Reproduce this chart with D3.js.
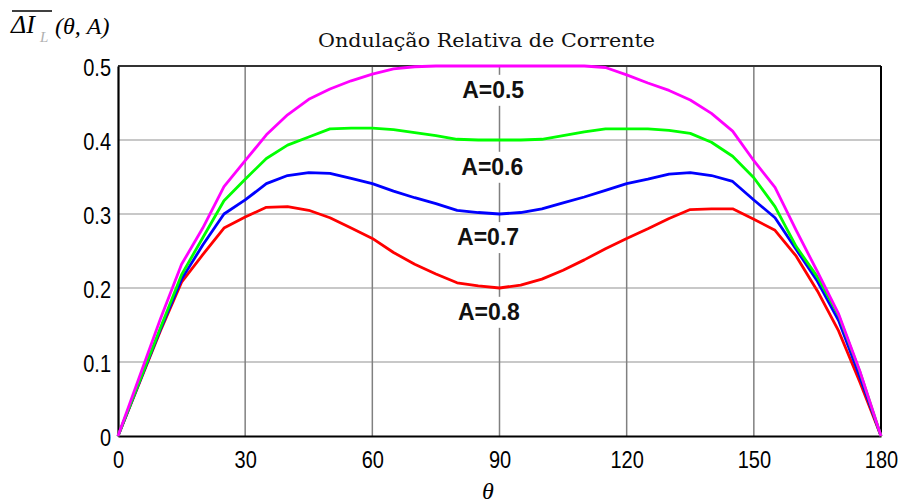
<!DOCTYPE html>
<html>
<head>
<meta charset="utf-8">
<script src="https://cdn.jsdelivr.net/npm/d3@7"></script>
<style>
html,body{margin:0;padding:0;background:#fff;}
svg{display:block;}
</style>
</head>
<body>
<svg id="chart" width="904" height="504"></svg>
<script>
// ---- data ----
const theta = [0,5,10,15,20,25,30,35,40,45,50,55,60,65,70,75,80,85,90,
               95,100,105,110,115,120,125,130,135,140,145,150,155,160,165,170,175,180];

const seriesA05 = [0,0.079,0.158,0.232,0.281,0.337,0.372,0.407,0.434,0.455,0.469,0.480,0.489,0.496,0.499,0.500,0.500,0.500,0.500,
                   0.500,0.500,0.500,0.500,0.498,0.488,0.477,0.467,0.454,0.436,0.412,0.372,0.336,0.278,0.222,0.165,0.088,0];
const seriesA06 = [0,0.073,0.146,0.218,0.268,0.318,0.347,0.375,0.393,0.404,0.415,0.416,0.416,0.414,0.410,0.406,0.401,0.400,0.400,
                   0.400,0.401,0.406,0.411,0.415,0.415,0.415,0.413,0.409,0.397,0.378,0.349,0.310,0.256,0.215,0.163,0.087,0];
const seriesA07 = [0,0.072,0.144,0.212,0.258,0.300,0.319,0.341,0.352,0.356,0.355,0.348,0.341,0.331,0.322,0.314,0.305,0.302,0.300,
                   0.302,0.307,0.315,0.323,0.332,0.341,0.347,0.354,0.356,0.352,0.344,0.319,0.295,0.252,0.209,0.156,0.080,0];
const seriesA08 = [0,0.071,0.142,0.208,0.245,0.281,0.296,0.309,0.310,0.305,0.295,0.281,0.267,0.248,0.232,0.219,0.207,0.203,0.200,
                   0.204,0.212,0.224,0.238,0.253,0.267,0.280,0.294,0.306,0.307,0.307,0.293,0.278,0.243,0.196,0.142,0.073,0];

const seriesNames = ["A=0.8","A=0.7","A=0.6","A=0.5"];
const xTicks = [0,30,60,90,120,150,180];
const yTicks = [0,0.1,0.2,0.3,0.4,0.5];
const yTickLabels = ["0","0.1","0.2","0.3","0.4","0.5"];
const titleText = "Ondulação Relativa de Corrente";

// ---- layout / style ----
const plot = {left:118, right:881, top:66, bottom:436};
const colors = {"A=0.8":"#ff0000","A=0.7":"#0000ff","A=0.6":"#00ff00","A=0.5":"#ff00ff"};
const seriesData = {"A=0.8":seriesA08,"A=0.7":seriesA07,"A=0.6":seriesA06,"A=0.5":seriesA05};
// label anchor positions in data units (theta, value of baseline)
const labelPos = {"A=0.5":[88.5,0.457],"A=0.6":[88.3,0.353],"A=0.7":[87.3,0.258],"A=0.8":[87.5,0.157]};

const svg = d3.select("#chart");
const x = d3.scaleLinear().domain([0,180]).range([plot.left, plot.right]);
const y = d3.scaleLinear().domain([0,0.5]).range([plot.bottom, plot.top]);

// grid
const grid = svg.append("g");
grid.selectAll("line.h").data(yTicks.filter(d=>d>0 && d<0.5)).enter().append("line")
  .attr("x1",plot.left).attr("x2",plot.right)
  .attr("y1",d=>y(d)).attr("y2",d=>y(d))
  .attr("stroke","#c8c8c8").attr("stroke-width",2);
grid.selectAll("line.v").data(xTicks.filter(d=>d>0 && d<180)).enter().append("line")
  .attr("x1",d=>x(d)).attr("x2",d=>x(d))
  .attr("y1",plot.top).attr("y2",plot.bottom)
  .attr("stroke","#808080").attr("stroke-width",1.5);

// frame
svg.append("line").attr("x1",plot.left).attr("x2",plot.right).attr("y1",plot.top).attr("y2",plot.top)
  .attr("stroke","#333").attr("stroke-width",2);
svg.append("line").attr("x1",plot.right).attr("x2",plot.right).attr("y1",plot.top).attr("y2",plot.bottom)
  .attr("stroke","#000").attr("stroke-width",2);

// axes
const SY = 1.22; // vertical stretch of tick font
const xAxis = d3.axisBottom(x).tickValues(xTicks).tickSize(0).tickFormat(d3.format("d"));
const gx = svg.append("g").attr("transform",`translate(0,${plot.bottom})`).call(xAxis);
gx.select(".domain").attr("stroke","#000").attr("stroke-width",2.2);
gx.selectAll("text")
  .attr("font-family","'Liberation Sans', Arial, sans-serif").attr("font-size",20)
  .attr("fill","#000").attr("dy",null)
  .attr("y",32/SY).attr("transform",`scale(1,${SY})`);

const yAxis = d3.axisLeft(y).tickValues(yTicks).tickSize(0).tickFormat((d,i)=>yTickLabels[i]);
const gy = svg.append("g").attr("transform",`translate(${plot.left},0)`).call(yAxis);
gy.select(".domain").attr("stroke","#000").attr("stroke-width",2.2);
gy.selectAll(".tick").each(function(d){
  const ty = y(d);
  d3.select(this).attr("transform",null);
  d3.select(this).select("text")
    .attr("font-family","'Liberation Sans', Arial, sans-serif").attr("font-size",20)
    .attr("fill","#000").attr("dy",null).attr("x",-7)
    .attr("y",(ty+10.5)/SY).attr("transform",`scale(1,${SY})`);
});

// curves
const line = d3.line().x((d,i)=>x(theta[i])).y(d=>y(d));
seriesNames.forEach(name=>{
  svg.append("path").datum(seriesData[name])
    .attr("d",line).attr("fill","none")
    .attr("stroke",colors[name]).attr("stroke-width",2.8)
    .attr("stroke-linejoin","round");
});

// labels with white background
["A=0.5","A=0.6","A=0.7","A=0.8"].forEach(name=>{
  const [tx,ty] = labelPos[name];
  const cx = x(tx), by = y(ty);
  svg.append("rect").attr("x",cx-33).attr("y",by-23).attr("width",66).attr("height",31).attr("fill","#fff");
  svg.append("text").attr("x",cx).attr("y",by).attr("text-anchor","middle")
    .attr("font-family","'Liberation Sans', Arial, sans-serif").attr("font-weight","bold")
    .attr("font-size",23).attr("fill","#111").text(name);
});

// title
svg.append("text").attr("x",486.5).attr("y",47).attr("text-anchor","middle")
  .attr("font-family","'DejaVu Serif', serif").attr("font-size",18)
  .attr("textLength",337).attr("lengthAdjust","spacingAndGlyphs")
  .attr("fill","#111").text(titleText);

// y-axis label: overline(ΔI_L)(θ, A)
const yl = svg.append("g");
yl.append("text").attr("x",11).attr("y",33)
  .attr("font-family","'Liberation Serif','Times New Roman',serif").attr("font-style","italic")
  .attr("font-size",26).attr("fill","#000").text("ΔI");
yl.append("text").attr("x",40).attr("y",42)
  .attr("font-family","'Liberation Serif','Times New Roman',serif").attr("font-style","italic")
  .attr("font-size",15).attr("fill","#b0b0b0").text("L");
yl.append("text").attr("x",55).attr("y",34)
  .attr("font-family","'Liberation Serif','Times New Roman',serif").attr("font-style","italic")
  .attr("font-size",24).attr("fill","#000").text("(θ, A)");
yl.append("line").attr("x1",12).attr("x2",52).attr("y1",11).attr("y2",11)
  .attr("stroke","#000").attr("stroke-width",1.5);

// x-axis label
svg.append("text").attr("x",488).attr("y",499).attr("text-anchor","middle")
  .attr("font-family","'Liberation Serif','Times New Roman',serif").attr("font-style","italic")
  .attr("font-size",24).attr("fill","#000").text("θ");
</script>
</body>
</html>
